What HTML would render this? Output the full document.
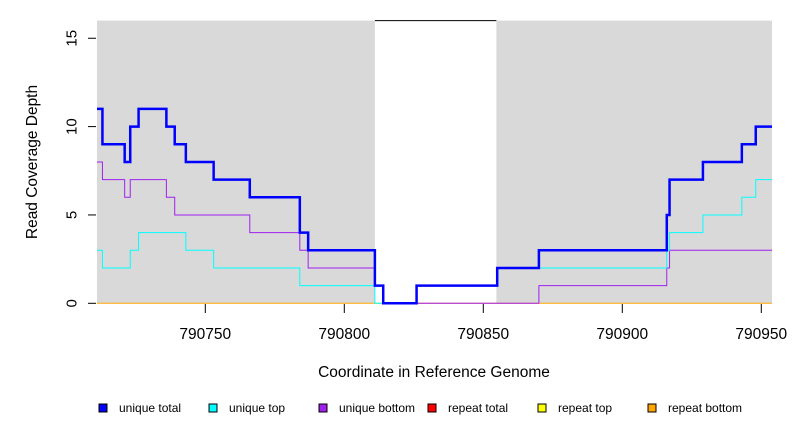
<!DOCTYPE html>
<html><head><meta charset="utf-8"><style>
html,body{margin:0;padding:0;background:#fff;}
svg{display:block;font-family:"Liberation Sans",Arial,sans-serif;}
</style></head><body>
<svg id="chart" width="792" height="432" viewBox="0 0 792 432" xmlns="http://www.w3.org/2000/svg"></svg>
<script>
const xTicks = [790750, 790800, 790850, 790900, 790950];
const yTicks = [0, 5, 10, 15];
const totalEdges = [790711,790713,790721,790723,790726,790736,790739,790743,790753,790766,790784,790787,790811,790814,790826,790855,790870,790916,790917,790929,790943,790948,790954];
const totalVals = [11,9,8,10,11,10,9,8,7,6,4,3,1,0,1,2,3,5,7,8,9,10];
const topEdges = [790711,790713,790723,790726,790743,790753,790784,790811,790826,790855,790916,790917,790929,790943,790948,790954];
const topVals = [3,2,3,4,3,2,1,0,1,2,3,4,5,6,7];
const bottomEdges = [790711,790713,790721,790723,790736,790739,790766,790784,790787,790811,790814,790870,790916,790917,790954];
const bottomVals = [8,7,6,7,6,5,4,3,2,1,0,1,2,3];
const gapRegion = [790811, 790854.7];
const legendLabels = ["unique total","unique top","unique bottom","repeat total","repeat top","repeat bottom"];
const legendColors = ["#0000ff","#00ffff","#a020f0","#ff0000","#ffff00","#ffa500"];

const svg = document.getElementById('chart');
const NS = 'http://www.w3.org/2000/svg';
const X0 = 97, X1 = 772;
function xs(v){ return 205.3 + (v - 790750) * 2.78; }
function ys(v){ return 303.3 - v * 17.67; }
function mk(tag, attrs, parent){
  const e = document.createElementNS(NS, tag);
  for (const k in attrs) e.setAttribute(k, attrs[k]);
  (parent || svg).appendChild(e);
  return e;
}
let r = mk('rect', {x:X0, y:ys(16), width:xs(gapRegion[0])-X0, height:ys(0)-ys(16), fill:'#d9d9d9'});


r = mk('rect', {x:xs(gapRegion[1]), y:ys(16), width:X1-xs(gapRegion[1]), height:ys(0)-ys(16), fill:'#d9d9d9'});


let gl = mk('line', {x1:xs(gapRegion[0]), x2:xs(gapRegion[1]), y1:ys(16), y2:ys(16), stroke:'#000', 'stroke-width':1});



let ob = mk('line', {x1:X0, x2:X1, y1:ys(0), y2:ys(0), stroke:'#ffa500', 'stroke-width':1});



function stepPath(edges, vals){
  let d = 'M' + Math.max(X0, xs(edges[0])) + ',' + ys(vals[0]);
  for (let i = 0; i < vals.length; i++){
    const xe = Math.min(X1, xs(edges[i+1]));
    d += ' L' + xe + ',' + ys(vals[i]);
    if (i + 1 < vals.length) d += ' L' + xe + ',' + ys(vals[i+1]);
  }
  return d;
}
let p = mk('path', {d:stepPath(bottomEdges, bottomVals), fill:'none', stroke:'#a020f0', 'stroke-width':1});


p = mk('path', {d:stepPath(topEdges, topVals), fill:'none', stroke:'#00ffff', 'stroke-width':1});


p = mk('path', {d:stepPath(totalEdges, totalVals), fill:'none', stroke:'#0000ff', 'stroke-width':2.5});



yTicks.forEach(v => {
  const y = ys(v);
  const t = mk('line', {x1:88, x2:96, y1:y, y2:y, stroke:'#000'});
  
  
  const l = mk('text', {x:72, y:y, 'font-size':15, 'text-anchor':'middle', transform:'rotate(-90 72 '+y+')', 'dominant-baseline':'central'});
  l.textContent = v;
  
  
});
xTicks.forEach(v => {
  const x = xs(v);
  const t = mk('line', {x1:x, x2:x, y1:304, y2:313, stroke:'#000'});
  
  
  const l = mk('text', {x:x, y:339, 'font-size':15.5, 'text-anchor':'middle'});
  l.textContent = v;
  
  
});
let xt = mk('text', {x:434, y:377, 'font-size':15.5, 'text-anchor':'middle'});
xt.textContent = 'Coordinate in Reference Genome';


let yt = mk('text', {x:37, y:162, 'font-size':15.5, 'text-anchor':'middle', transform:'rotate(-90 37 162)'});
yt.textContent = 'Read Coverage Depth';



const legendX = [99, 209, 319, 428, 538, 648];
legendLabels.forEach((lab, i) => {
  const g = mk('g', {});
  
  
  mk('rect', {x:legendX[i], y:404, width:8, height:8, fill:legendColors[i], stroke:'#000', 'stroke-width':1}, g);
  const t = mk('text', {x:legendX[i]+20, y:412, 'font-size':12}, g);
  t.textContent = lab;
});
</script>
</body></html>
